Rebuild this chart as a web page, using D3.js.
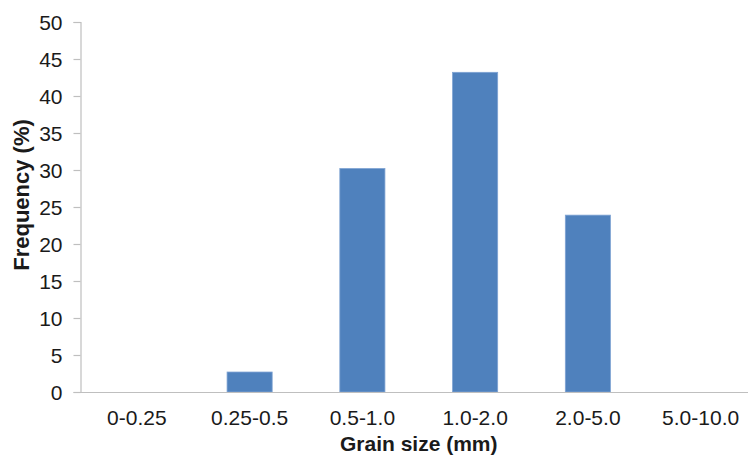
<!DOCTYPE html>
<html>
<head>
<meta charset="utf-8">
<script src="https://cdn.jsdelivr.net/npm/d3@7"></script>
<style>
  html, body { margin: 0; padding: 0; background: #fff; }
  svg { display: block; font-family: "Liberation Sans", Arial, sans-serif; }
</style>
</head>
<body>
<svg id="chart" width="748" height="457"></svg>
<script>
// Grain size distribution
const categories = ["0-0.25", "0.25-0.5", "0.5-1.0", "1.0-2.0", "2.0-5.0", "5.0-10.0"];
const frequency = [0, 2.7, 30.2, 43.2, 23.9, 0];
const yTicks = [0, 5, 10, 15, 20, 25, 30, 35, 40, 45, 50];

const svg = d3.select("#chart");
const plot = { left: 80.5, right: 757, top: 22, bottom: 392 };

const x = d3.scaleBand()
  .domain(categories)
  .range([plot.left, plot.right])
  .paddingInner(0.6)
  .paddingOuter(0.3);

const y = d3.scaleLinear()
  .domain([0, 50])
  .range([plot.bottom, plot.top]);

// bars
svg.append("g")
  .selectAll("rect")
  .data(categories.map((c, i) => ({ c, v: frequency[i] })))
  .join("rect")
  .attr("x", d => x(d.c))
  .attr("y", d => y(d.v))
  .attr("width", x.bandwidth())
  .attr("height", d => y(0) - y(d.v))
  .attr("fill", "#4F81BD")
  .attr("stroke", d => d.v > 0 ? "#7FA3D3" : "none")
  .attr("stroke-width", 0.8);

// y axis
const yAxis = svg.append("g")
  .attr("transform", `translate(${plot.left},0)`)
  .call(d3.axisLeft(y).tickValues(yTicks).tickSize(7).tickPadding(11).tickFormat(d3.format("d")));
yAxis.select(".domain").attr("stroke", "#BFBFBF").attr("stroke-width", 1.2);
yAxis.selectAll(".tick line").attr("stroke", "#BFBFBF").attr("stroke-width", 1.2);
yAxis.selectAll(".tick text")
  .attr("fill", "#1a1a1a")
  .style("font-size", "21px")
  .attr("dy", "0.36em");

// x axis
const xAxis = svg.append("g")
  .attr("transform", `translate(0,${plot.bottom})`)
  .call(d3.axisBottom(x).tickSize(0).tickPadding(0));
xAxis.select(".domain")
  .attr("d", `M${plot.left},0.5H${plot.right}`)
  .attr("stroke", "#BFBFBF").attr("stroke-width", 1.2);
xAxis.selectAll(".tick text")
  .attr("fill", "#1a1a1a")
  .style("font-size", "21px")
  .attr("y", 33)
  .attr("dy", 0);

// axis titles
svg.append("text")
  .attr("x", (plot.left + plot.right) / 2)
  .attr("y", 451)
  .attr("text-anchor", "middle")
  .attr("fill", "#1a1a1a")
  .style("font-size", "21px")
  .style("font-weight", "bold")
  .text("Grain size (mm)");

svg.append("text")
  .attr("transform", "translate(29,195) rotate(-90)")
  .attr("text-anchor", "middle")
  .attr("fill", "#1a1a1a")
  .style("font-size", "22px")
  .style("font-weight", "bold")
  .text("Frequency (%)");
</script>
</body>
</html>
